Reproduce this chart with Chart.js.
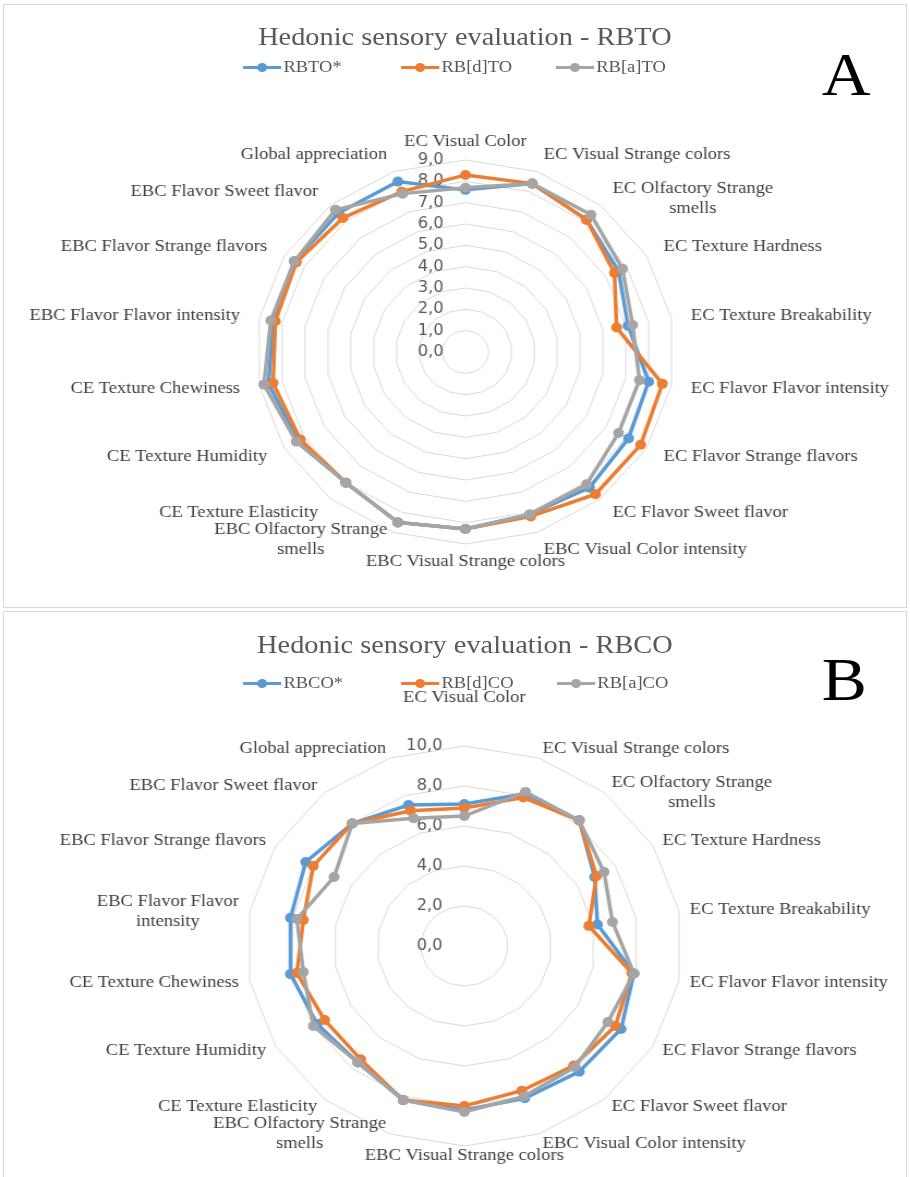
<!doctype html>
<html lang="en">
<head>
<meta charset="utf-8">
<title>Hedonic sensory evaluation</title>
<style>
  * { margin: 0; padding: 0; }
  html, body { width: 910px; height: 1177px; overflow: hidden; background: #fff; }
  .panel { position: absolute; left: 3px; width: 902px; border: 1px solid #d9d9d9; }
  /* the source picture is stretched sideways, so the whole chart is too */
  .stretch { position: absolute; left: 0; width: 835px; transform: scaleX(1.09); transform-origin: 0 0; }
  .stretch canvas { position: absolute; left: 0; top: 0; }
  .title { position: absolute; left: 0; width: 853px; text-align: center; font: 26px "Liberation Serif", serif; color: #595959; line-height: 30px; white-space: nowrap; }
  .legend { position: absolute; left: 0; width: 835px; height: 20px; font: 17px "Liberation Serif", serif; color: #595959; line-height: 20px; white-space: nowrap; }
  .item { position: absolute; top: 0; display: flex; align-items: center; }
  .key { position: relative; width: 35px; height: 3px; margin-right: 2px; }
  .key i { position: absolute; left: 13px; top: -3px; width: 9px; height: 9px; border-radius: 50%; background: inherit; }
  .letter { position: absolute; left: 754px; font: 62px "Liberation Serif", serif; color: #000; line-height: 62px; }
</style>
</head>
<body>
  <div class="panel" style="top:4px; height:602px;"></div>
  <div class="panel" style="top:611px; height:600px;"></div>

  <div class="stretch" style="top:5px; height:602px;">
    <canvas id="chartA" width="835" height="602"></canvas>
    <div class="title" style="top:17px;">Hedonic sensory evaluation - RBTO</div>
    <div class="legend" id="legendA" style="top:52px;"></div>
    <div class="letter" style="top:38px;">A</div>
  </div>

  <div class="stretch" style="top:612px; height:565px;">
    <canvas id="chartB" width="835" height="565"></canvas>
    <div class="title" style="top:18px;">Hedonic sensory evaluation - RBCO</div>
    <div class="legend" id="legendB" style="top:61px;"></div>
    <div class="letter" style="top:36px;">B</div>
  </div>

<script src="https://cdn.jsdelivr.net/npm/chart.js/dist/chart.umd.min.js"></script>
<script>
  // categories (clockwise from the top)
  const labelsA = [
    'EC Visual Color', 'EC Visual Strange colors', ['EC Olfactory Strange', 'smells'],
    'EC Texture Hardness', 'EC Texture Breakability', 'EC Flavor Flavor intensity',
    'EC Flavor Strange flavors', 'EC Flavor Sweet flavor', 'EBC Visual Color intensity',
    'EBC Visual Strange colors', ['EBC Olfactory Strange', 'smells'], 'CE Texture Elasticity',
    'CE Texture Humidity', 'CE Texture Chewiness', 'EBC Flavor Flavor intensity',
    'EBC Flavor Strange flavors', 'EBC Flavor Sweet flavor', 'Global appreciation'
  ];
  const labelsB = [
    'EC Visual Color', 'EC Visual Strange colors', ['EC Olfactory Strange', 'smells'],
    'EC Texture Hardness', 'EC Texture Breakability', 'EC Flavor Flavor intensity',
    'EC Flavor Strange flavors', 'EC Flavor Sweet flavor', 'EBC Visual Color intensity',
    'EBC Visual Strange colors', ['EBC Olfactory Strange', 'smells'], 'CE Texture Elasticity',
    'CE Texture Humidity', 'CE Texture Chewiness', ['EBC Flavor Flavor', 'intensity'],
    'EBC Flavor Strange flavors', 'EBC Flavor Sweet flavor', 'Global appreciation'
  ];

  // series names
  const seriesA = ['RBTO*', 'RB[d]TO', 'RB[a]TO'];
  const seriesB = ['RBCO*', 'RB[d]CO', 'RB[a]CO'];

  // values - chart A (RBTO)
  const rbtoStar = [7.6, 8.4, 8.1, 7.6, 7.1, 8.0, 8.1, 8.3, 8.1, 8.3, 8.5, 8.0, 8.3, 8.6, 8.4, 8.5, 8.5, 8.5];
  const rbdTO    = [8.3, 8.4, 8.1, 7.4, 6.6, 8.6, 8.7, 8.7, 8.2, 8.3, 8.5, 8.0, 8.2, 8.4, 8.3, 8.4, 8.2, 8.0];
  const rbaTO    = [7.7, 8.4, 8.4, 7.8, 7.3, 7.6, 7.6, 8.1, 8.1, 8.3, 8.5, 8.0, 8.4, 8.8, 8.5, 8.5, 8.7, 7.9];

  // values - chart B (RBCO)
  const rbcoStar = [7.1, 8.1, 8.2, 6.9, 6.2, 7.9, 8.3, 8.2, 8.1, 8.2, 8.2, 7.6, 7.8, 8.1, 8.1, 8.4, 8.0, 7.5];
  const rbdCO    = [6.9, 7.9, 8.2, 7.0, 5.8, 7.8, 8.0, 7.8, 7.7, 8.0, 8.2, 7.4, 7.4, 7.8, 7.5, 8.0, 8.0, 7.2];
  const rbaCO    = [6.5, 8.2, 8.2, 7.4, 6.9, 7.9, 7.6, 7.9, 8.0, 8.3, 8.2, 7.6, 8.0, 7.5, 7.8, 6.9, 8.0, 6.8];

  // tick labels
  const ticksA = [0, 1, 2, 3, 4, 5, 6, 7, 8, 9];
  const ticksB = [0, 2, 4, 6, 8, 10];

  const colors = ['#5B9BD5', '#ED7D31', '#A5A5A5'];

  const fmt = v => v.toFixed(1).replace('.', ',');

  // Excel style labels: tick values left of the vertical axis, category names
  // placed around their spoke
  const excelLabels = {
    id: 'excelLabels',
    beforeDatasetsDraw(chart, args, opts) {
      const r = chart.scales.r;
      const ctx = chart.ctx;
      ctx.save();
      ctx.font = '15px "DejaVu Sans"';
      ctx.fillStyle = '#595959';
      ctx.textAlign = 'right';
      ctx.textBaseline = 'middle';
      opts.ticks.forEach(t => {
        ctx.fillText(fmt(t), r.xCenter - 20, r.yCenter - r.getDistanceFromCenterForValue(t));
      });
      ctx.restore();
    },
    afterDatasetsDraw(chart, args, opts) {
      const r = chart.scales.r;
      const ctx = chart.ctx;
      const lh = 20;
      ctx.save();
      ctx.font = '17px "Liberation Serif"';
      ctx.fillStyle = '#404040';
      ctx.textAlign = 'center';
      ctx.textBaseline = 'middle';
      chart.data.labels.forEach((lab, i) => {
        const p = r.getPointPosition(i, r.drawingArea + opts.pad + (i === 0 ? opts.topLift : 0));
        const a = r.getIndexAngle(i);
        const s = Math.sin(a);
        const lines = Array.isArray(lab) ? lab : [lab];
        const w = Math.max(...lines.map(l => ctx.measureText(l).width));
        let cx = p.x;
        if (s > 0.01) cx = p.x + w / 2;
        else if (s < -0.01) cx = p.x - w / 2;
        const half = (lines.length - 1) * lh / 2;
        const y0 = p.y - half + half * Math.cos(a);
        lines.forEach((l, k) => ctx.fillText(l, cx, y0 + k * lh));
      });
      ctx.restore();
    }
  };

  function makeChart(id, labels, names, values, ticks, padding, pad, topLift) {
    return new Chart(document.getElementById(id), {
      type: 'radar',
      data: {
        labels: labels,
        datasets: names.map((n, i) => ({
          label: n,
          data: values[i],
          borderColor: colors[i],
          backgroundColor: colors[i],
          pointBackgroundColor: colors[i],
          pointBorderColor: colors[i],
          pointBorderWidth: 0,
          pointRadius: 5,
          borderWidth: 3.5,
          fill: false,
          order: names.length - i
        }))
      },
      options: {
        responsive: false,
        animation: false,
        events: [],
        layout: { padding: padding },
        plugins: {
          legend: { display: false },
          tooltip: { enabled: false },
          excelLabels: { ticks: ticks, pad: pad, topLift: topLift }
        },
        scales: {
          r: {
            min: ticks[0],
            max: ticks[ticks.length - 1],
            ticks: { display: false, stepSize: ticks[1] - ticks[0] },
            grid: { color: '#d9d9d9', lineWidth: 1 },
            angleLines: { display: false },
            pointLabels: { display: false }
          }
        }
      },
      plugins: [excelLabels]
    });
  }

  // legend entries start at these x positions (unstretched px)
  function makeLegend(id, names, starts) {
    const box = document.getElementById(id);
    names.forEach((n, i) => {
      const item = document.createElement('div');
      item.className = 'item';
      item.style.left = starts[i] + 'px';
      const key = document.createElement('span');
      key.className = 'key';
      key.style.background = colors[i];
      key.appendChild(document.createElement('i'));
      const txt = document.createElement('span');
      txt.textContent = n;
      item.appendChild(key);
      item.appendChild(txt);
      box.appendChild(item);
    });
  }

  makeLegend('legendA', seriesA, [223, 368, 510]);
  makeLegend('legendB', seriesB, [223, 368, 511]);

  makeChart('chartA', labelsA, seriesA, [rbtoStar, rbdTO, rbaTO], ticksA,
    { left: 235, top: 155, right: 216, bottom: 63 }, 18, 0);
  makeChart('chartB', labelsB, seriesB, [rbcoStar, rbdCO, rbaCO], ticksB,
    { left: 226, top: 134, right: 209, bottom: 31 }, 10, 38);
</script>
</body>
</html>
